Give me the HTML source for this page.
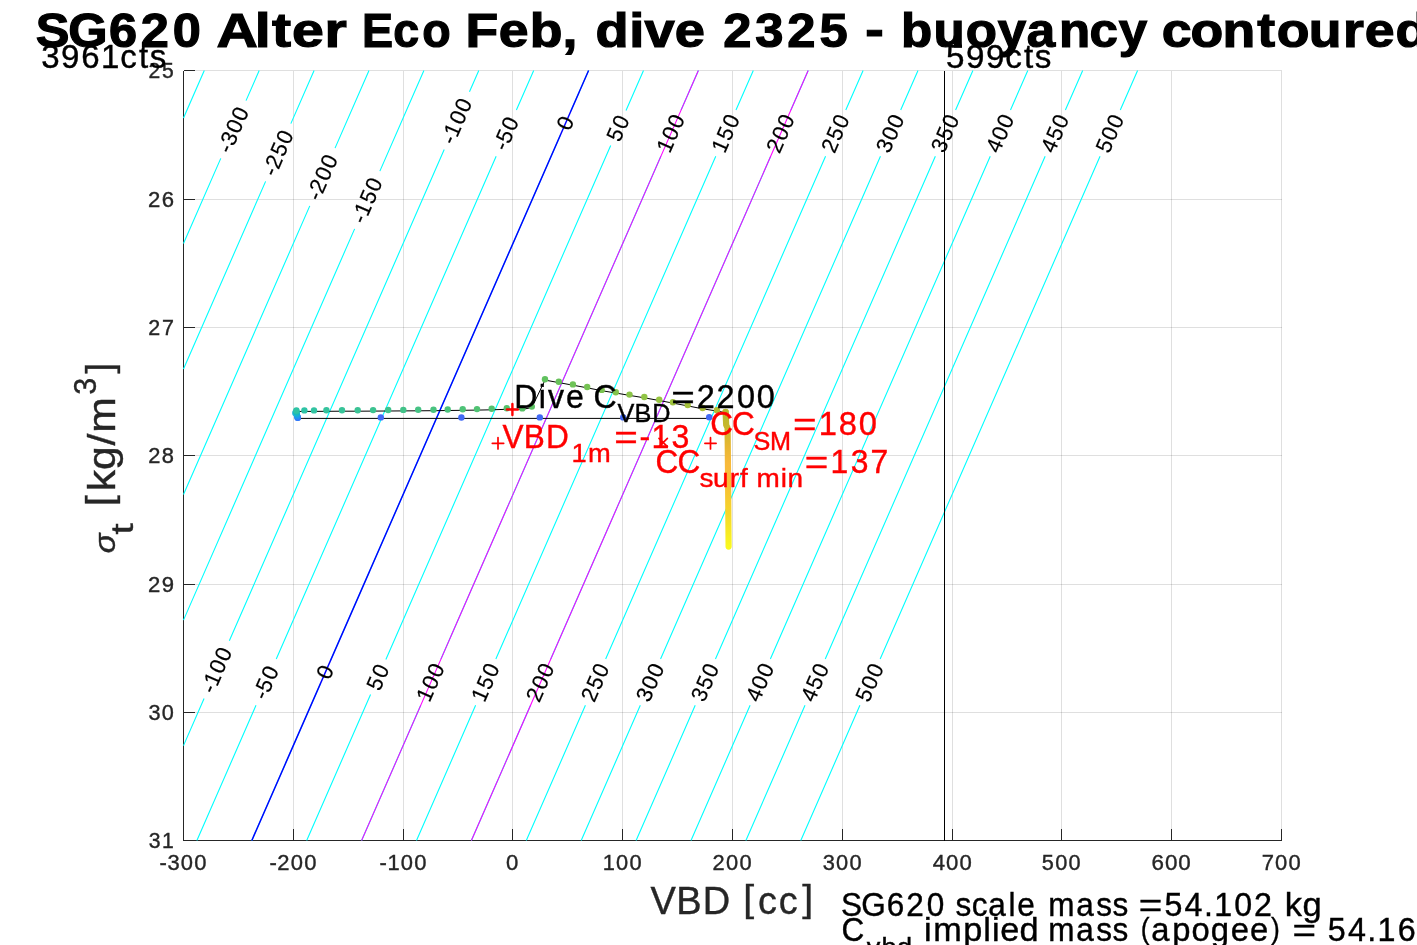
<!DOCTYPE html>
<html><head><meta charset="utf-8"><title>SG620 dive 2325 buoyancy contoured</title>
<style>html,body{margin:0;padding:0;background:#fff;overflow:hidden}svg{display:block;will-change:transform}text{font-family:"Liberation Sans",sans-serif;white-space:pre}</style>
</head><body>
<svg width="1417" height="945" viewBox="0 0 1417 945">
<rect x="0" y="0" width="1417" height="945" fill="#fff"/>
<g stroke="#262626" stroke-opacity="0.15" stroke-width="1" shape-rendering="crispEdges">
<line x1="183.50" y1="70.50" x2="183.50" y2="840.50"/>
<line x1="293.50" y1="70.50" x2="293.50" y2="840.50"/>
<line x1="403.50" y1="70.50" x2="403.50" y2="840.50"/>
<line x1="512.50" y1="70.50" x2="512.50" y2="840.50"/>
<line x1="622.50" y1="70.50" x2="622.50" y2="840.50"/>
<line x1="732.50" y1="70.50" x2="732.50" y2="840.50"/>
<line x1="842.50" y1="70.50" x2="842.50" y2="840.50"/>
<line x1="952.50" y1="70.50" x2="952.50" y2="840.50"/>
<line x1="1061.50" y1="70.50" x2="1061.50" y2="840.50"/>
<line x1="1171.50" y1="70.50" x2="1171.50" y2="840.50"/>
<line x1="1281.50" y1="70.50" x2="1281.50" y2="840.50"/>
<line x1="183.50" y1="70.50" x2="1281.50" y2="70.50"/>
<line x1="183.50" y1="199.50" x2="1281.50" y2="199.50"/>
<line x1="183.50" y1="327.50" x2="1281.50" y2="327.50"/>
<line x1="183.50" y1="455.50" x2="1281.50" y2="455.50"/>
<line x1="183.50" y1="584.50" x2="1281.50" y2="584.50"/>
<line x1="183.50" y1="712.50" x2="1281.50" y2="712.50"/>
<line x1="183.50" y1="840.50" x2="1281.50" y2="840.50"/>
</g>
<g stroke="#262626" stroke-width="1" fill="none" shape-rendering="crispEdges">
<line x1="183.50" y1="70.50" x2="183.50" y2="841.00"/>
<line x1="183.00" y1="840.50" x2="1282.00" y2="840.50"/>
<line x1="183.50" y1="840.50" x2="183.50" y2="829.00"/>
<line x1="293.50" y1="840.50" x2="293.50" y2="829.00"/>
<line x1="403.50" y1="840.50" x2="403.50" y2="829.00"/>
<line x1="512.50" y1="840.50" x2="512.50" y2="829.00"/>
<line x1="622.50" y1="840.50" x2="622.50" y2="829.00"/>
<line x1="732.50" y1="840.50" x2="732.50" y2="829.00"/>
<line x1="842.50" y1="840.50" x2="842.50" y2="829.00"/>
<line x1="952.50" y1="840.50" x2="952.50" y2="829.00"/>
<line x1="1061.50" y1="840.50" x2="1061.50" y2="829.00"/>
<line x1="1171.50" y1="840.50" x2="1171.50" y2="829.00"/>
<line x1="1281.50" y1="840.50" x2="1281.50" y2="829.00"/>
<line x1="183.50" y1="70.50" x2="195.00" y2="70.50"/>
<line x1="183.50" y1="199.50" x2="195.00" y2="199.50"/>
<line x1="183.50" y1="327.50" x2="195.00" y2="327.50"/>
<line x1="183.50" y1="455.50" x2="195.00" y2="455.50"/>
<line x1="183.50" y1="584.50" x2="195.00" y2="584.50"/>
<line x1="183.50" y1="712.50" x2="195.00" y2="712.50"/>
<line x1="183.50" y1="840.50" x2="195.00" y2="840.50"/>
</g>
<g fill="none" stroke="#00ffff" stroke-width="1.1">
<path d="M204.30 70.50L183.50 118.05"/>
<path d="M259.20 70.50L246.02 100.64M220.77 158.36L183.50 243.57"/>
<path d="M314.10 70.50L290.86 123.64M265.61 181.36L183.50 369.08"/>
<path d="M369.00 70.50L335.04 148.14M309.79 205.86L183.50 494.59"/>
<path d="M423.90 70.50L379.88 171.14M354.63 228.86L183.50 620.11"/>
<path d="M478.80 70.50L469.47 91.84M444.22 149.56L229.33 640.84M204.08 698.56L183.50 745.62"/>
<path d="M533.70 70.50L516.39 110.07M496.16 156.33L276.26 659.07M256.02 705.33L196.90 840.50"/>
<path d="M588.60 70.50L570.85 111.09M560.43 134.91L330.71 660.09M320.29 683.91L251.80 840.50"/>
<path d="M643.50 70.50L626.00 110.50M610.70 145.50L385.87 659.50M370.56 694.50L306.70 840.50"/>
<path d="M698.40 70.50L681.09 110.07M660.86 156.33L440.96 659.07M420.72 705.33L361.60 840.50"/>
<path d="M753.30 70.50L735.99 110.07M715.76 156.33L495.86 659.07M475.62 705.33L416.50 840.50"/>
<path d="M808.20 70.50L790.89 110.07M770.66 156.33L550.76 659.07M530.52 705.33L471.40 840.50"/>
<path d="M863.10 70.50L845.79 110.07M825.56 156.33L605.66 659.07M585.42 705.33L526.30 840.50"/>
<path d="M918.00 70.50L900.69 110.07M880.46 156.33L660.56 659.07M640.32 705.33L581.20 840.50"/>
<path d="M972.90 70.50L955.59 110.07M935.36 156.33L715.46 659.07M695.22 705.33L636.10 840.50"/>
<path d="M1027.80 70.50L1010.49 110.07M990.26 156.33L770.36 659.07M750.12 705.33L691.00 840.50"/>
<path d="M1082.70 70.50L1065.39 110.07M1045.16 156.33L825.26 659.07M805.02 705.33L745.90 840.50"/>
<path d="M1137.60 70.50L1120.29 110.07M1100.06 156.33L880.16 659.07M859.92 705.33L800.80 840.50"/>
</g>
<line x1="698.40" y1="70.50" x2="361.60" y2="840.50" stroke="#ff00ff" stroke-width="1.05"/>
<line x1="808.20" y1="70.50" x2="471.40" y2="840.50" stroke="#ff00ff" stroke-width="1.05"/>
<line x1="588.60" y1="70.50" x2="251.80" y2="840.50" stroke="#0000ff" stroke-width="1.45"/>
<g fill="#000">
<text transform="translate(233.39 129.50) rotate(-66.38) translate(-24.13 7.30) scale(0.9866 1)" x="0.13 8.29 21.80 35.34" y="0.16 0.00 0.00 0.00" font-size="22.26" fill="#000" stroke="#000" stroke-width="0.20">-300</text>
<text transform="translate(278.23 152.50) rotate(-66.38) translate(-24.13 7.30) scale(0.9718 1)" x="0.19 8.19 22.14 35.97" y="0.16 0.00 0.00 0.00" font-size="22.26" fill="#000" stroke="#000" stroke-width="0.20">-250</text>
<text transform="translate(322.42 177.00) rotate(-66.38) translate(-24.13 7.30) scale(0.9879 1)" x="0.13 7.96 21.76 35.29" y="0.16 0.00 0.00 0.00" font-size="22.26" fill="#000" stroke="#000" stroke-width="0.20">-200</text>
<text transform="translate(367.26 200.00) rotate(-66.38) translate(-24.13 7.30) scale(0.9697 1)" x="0.20 8.40 22.20 36.06" y="0.16 0.00 0.00 0.00" font-size="22.26" fill="#000" stroke="#000" stroke-width="0.20">-150</text>
<text transform="translate(456.84 120.70) rotate(-66.38) translate(-24.13 7.30) scale(0.9860 1)" x="0.14 8.15 21.81 35.36" y="0.16 0.00 0.00 0.00" font-size="22.26" fill="#000" stroke="#000" stroke-width="0.20">-100</text>
<text transform="translate(506.27 133.20) rotate(-66.38) translate(-17.45 7.30) scale(0.9769 1)" x="0.17 8.32 22.08" y="0.16 0.00 0.00" font-size="22.26" fill="#000" stroke="#000" stroke-width="0.20">-50</text>
<text transform="translate(565.64 123.00) rotate(-66.38) translate(-6.98 7.30) scale(0.9945 1)" x="0.52" y="0" font-size="22.26" fill="#000" stroke="#000" stroke-width="0.20">0</text>
<text transform="translate(618.35 128.00) rotate(-66.38) translate(-13.66 7.30) scale(0.9666 1)" x="0.63 14.54" y="0" font-size="22.26" fill="#000" stroke="#000" stroke-width="0.20">50</text>
<text transform="translate(670.97 133.20) rotate(-66.38) translate(-20.34 7.30) scale(0.9806 1)" x="0.51 14.24 27.87" y="0" font-size="22.26" fill="#000" stroke="#000" stroke-width="0.20">100</text>
<text transform="translate(725.87 133.20) rotate(-66.38) translate(-20.34 7.30) scale(0.9614 1)" x="0.65 14.57 28.55" y="0" font-size="22.26" fill="#000" stroke="#000" stroke-width="0.20">150</text>
<text transform="translate(780.77 133.20) rotate(-66.38) translate(-20.34 7.30) scale(0.9829 1)" x="0.32 14.20 27.79" y="0" font-size="22.26" fill="#000" stroke="#000" stroke-width="0.20">200</text>
<text transform="translate(835.67 133.20) rotate(-66.38) translate(-20.34 7.30) scale(0.9640 1)" x="0.45 14.51 28.45" y="0" font-size="22.26" fill="#000" stroke="#000" stroke-width="0.20">250</text>
<text transform="translate(890.57 133.20) rotate(-66.38) translate(-20.34 7.30) scale(0.9814 1)" x="0.64 14.23 27.84" y="0" font-size="22.26" fill="#000" stroke="#000" stroke-width="0.20">300</text>
<text transform="translate(945.47 133.20) rotate(-66.38) translate(-20.34 7.30) scale(0.9628 1)" x="0.77 14.54 28.50" y="0" font-size="22.26" fill="#000" stroke="#000" stroke-width="0.20">350</text>
<text transform="translate(1000.37 133.20) rotate(-66.38) translate(-20.34 7.30) scale(0.9945 1)" x="0.52 13.96 27.39" y="0" font-size="22.26" fill="#000" stroke="#000" stroke-width="0.20">400</text>
<text transform="translate(1055.27 133.20) rotate(-66.38) translate(-20.34 7.30) scale(0.9763 1)" x="0.64 14.25 28.02" y="0" font-size="22.26" fill="#000" stroke="#000" stroke-width="0.20">450</text>
<text transform="translate(1110.17 133.20) rotate(-66.38) translate(-20.34 7.30) scale(0.9759 1)" x="0.57 14.34 28.03" y="0" font-size="22.26" fill="#000" stroke="#000" stroke-width="0.20">500</text>
<text transform="translate(216.71 669.70) rotate(-66.38) translate(-24.13 7.30) scale(0.9860 1)" x="0.14 8.15 21.81 35.36" y="0.16 0.00 0.00 0.00" font-size="22.26" fill="#000" stroke="#000" stroke-width="0.20">-100</text>
<text transform="translate(266.14 682.20) rotate(-66.38) translate(-17.45 7.30) scale(0.9769 1)" x="0.17 8.32 22.08" y="0.16 0.00 0.00" font-size="22.26" fill="#000" stroke="#000" stroke-width="0.20">-50</text>
<text transform="translate(325.50 672.00) rotate(-66.38) translate(-6.98 7.30) scale(0.9945 1)" x="0.52" y="0" font-size="22.26" fill="#000" stroke="#000" stroke-width="0.20">0</text>
<text transform="translate(378.22 677.00) rotate(-66.38) translate(-13.66 7.30) scale(0.9666 1)" x="0.63 14.54" y="0" font-size="22.26" fill="#000" stroke="#000" stroke-width="0.20">50</text>
<text transform="translate(430.84 682.20) rotate(-66.38) translate(-20.34 7.30) scale(0.9806 1)" x="0.51 14.24 27.87" y="0" font-size="22.26" fill="#000" stroke="#000" stroke-width="0.20">100</text>
<text transform="translate(485.74 682.20) rotate(-66.38) translate(-20.34 7.30) scale(0.9614 1)" x="0.65 14.57 28.55" y="0" font-size="22.26" fill="#000" stroke="#000" stroke-width="0.20">150</text>
<text transform="translate(540.64 682.20) rotate(-66.38) translate(-20.34 7.30) scale(0.9829 1)" x="0.32 14.20 27.79" y="0" font-size="22.26" fill="#000" stroke="#000" stroke-width="0.20">200</text>
<text transform="translate(595.54 682.20) rotate(-66.38) translate(-20.34 7.30) scale(0.9640 1)" x="0.45 14.51 28.45" y="0" font-size="22.26" fill="#000" stroke="#000" stroke-width="0.20">250</text>
<text transform="translate(650.44 682.20) rotate(-66.38) translate(-20.34 7.30) scale(0.9814 1)" x="0.64 14.23 27.84" y="0" font-size="22.26" fill="#000" stroke="#000" stroke-width="0.20">300</text>
<text transform="translate(705.34 682.20) rotate(-66.38) translate(-20.34 7.30) scale(0.9628 1)" x="0.77 14.54 28.50" y="0" font-size="22.26" fill="#000" stroke="#000" stroke-width="0.20">350</text>
<text transform="translate(760.24 682.20) rotate(-66.38) translate(-20.34 7.30) scale(0.9945 1)" x="0.52 13.96 27.39" y="0" font-size="22.26" fill="#000" stroke="#000" stroke-width="0.20">400</text>
<text transform="translate(815.14 682.20) rotate(-66.38) translate(-20.34 7.30) scale(0.9763 1)" x="0.64 14.25 28.02" y="0" font-size="22.26" fill="#000" stroke="#000" stroke-width="0.20">450</text>
<text transform="translate(870.04 682.20) rotate(-66.38) translate(-20.34 7.30) scale(0.9759 1)" x="0.57 14.34 28.03" y="0" font-size="22.26" fill="#000" stroke="#000" stroke-width="0.20">500</text>
</g>
<line x1="944.5" y1="70.50" x2="944.5" y2="840.50" stroke="#000" stroke-width="1" shape-rendering="crispEdges"/>
<polyline fill="none" stroke="#000" stroke-width="1" points="709.2,418.4 297.7,418.4 296.4,411.5 304.4,411.4 314.0,411.4 326.4,411.3 342.0,411.2 357.7,411.2 373.1,411.1 388.2,411.0 403.3,410.9 418.2,410.8 433.5,410.7 447.7,410.5 462.7,410.3 477.0,410.1 491.7,409.8 506.8,409.3 522.3,409.4 531.8,407.6 545.0,380.1 558.8,382.6 572.9,385.2 587.2,387.8 601.7,390.7 615.8,393.0 629.5,395.4 644.3,397.8 659.2,400.5 672.9,403.1 687.7,405.9 702.6,408.8 716.9,411.0 725.6,412.8"/>
<circle cx="709.2" cy="417.3" r="3.2" fill="#4169f5"/>
<circle cx="623.2" cy="417.4" r="3.2" fill="#4169f5"/>
<circle cx="539.8" cy="417.4" r="3.2" fill="#4169f5"/>
<circle cx="461.4" cy="417.5" r="3.2" fill="#4169f5"/>
<circle cx="380.8" cy="417.4" r="3.2" fill="#4169f5"/>
<circle cx="297.7" cy="417.7" r="3.2" fill="#4169f5"/>
<circle cx="297.7" cy="417.7" r="3.2" fill="#2d7bfa"/>
<circle cx="297.4" cy="416.6" r="3.2" fill="#2a86f5"/>
<circle cx="297.0" cy="415.4" r="3.2" fill="#1f9aea"/>
<circle cx="296.7" cy="414.0" r="3.2" fill="#16abdc"/>
<circle cx="295.3" cy="412.9" r="3.2" fill="#20b4d8"/>
<circle cx="296.5" cy="412.6" r="3.2" fill="#12b6c4"/>
<circle cx="296.4" cy="411.4" r="3.2" fill="#1fbcb2"/>
<circle cx="296.4" cy="410.4" r="3.2" fill="#2ec3a5"/>
<circle cx="304.4" cy="410.4" r="3.2" fill="#2ec3a5"/>
<circle cx="314.0" cy="410.4" r="3.2" fill="#31c3a1"/>
<circle cx="326.4" cy="410.3" r="3.2" fill="#34c39d"/>
<circle cx="342.0" cy="410.2" r="3.2" fill="#37c398"/>
<circle cx="357.7" cy="410.2" r="3.2" fill="#3ac294"/>
<circle cx="373.1" cy="410.1" r="3.2" fill="#3cc290"/>
<circle cx="388.2" cy="410.0" r="3.2" fill="#3fc28c"/>
<circle cx="403.3" cy="409.9" r="3.2" fill="#42c288"/>
<circle cx="418.2" cy="409.8" r="3.2" fill="#45c284"/>
<circle cx="433.5" cy="409.7" r="3.2" fill="#48c27f"/>
<circle cx="447.7" cy="409.5" r="3.2" fill="#4bc27b"/>
<circle cx="462.7" cy="409.3" r="3.2" fill="#4ec277"/>
<circle cx="477.0" cy="409.1" r="3.2" fill="#50c273"/>
<circle cx="491.7" cy="408.8" r="3.2" fill="#53c16f"/>
<circle cx="506.8" cy="408.3" r="3.2" fill="#56c16a"/>
<circle cx="522.3" cy="408.4" r="3.2" fill="#59c166"/>
<circle cx="531.8" cy="406.6" r="3.2" fill="#5cc162"/>
<circle cx="545.0" cy="379.3" r="3.2" fill="#60c15e"/>
<circle cx="558.8" cy="381.8" r="3.2" fill="#67c15a"/>
<circle cx="572.9" cy="384.4" r="3.2" fill="#6ec257"/>
<circle cx="587.2" cy="387.0" r="3.2" fill="#75c253"/>
<circle cx="601.7" cy="389.9" r="3.2" fill="#7cc350"/>
<circle cx="615.8" cy="392.2" r="3.2" fill="#83c34c"/>
<circle cx="629.5" cy="394.6" r="3.2" fill="#8ac348"/>
<circle cx="644.3" cy="397.0" r="3.2" fill="#90c445"/>
<circle cx="659.2" cy="399.7" r="3.2" fill="#97c441"/>
<circle cx="672.9" cy="402.3" r="3.2" fill="#9ec23e"/>
<circle cx="687.7" cy="405.1" r="3.2" fill="#a4c03a"/>
<circle cx="702.6" cy="408.0" r="3.2" fill="#abbe37"/>
<circle cx="716.9" cy="410.2" r="3.2" fill="#b1bc33"/>
<circle cx="725.6" cy="412.0" r="3.2" fill="#b8ba30"/>
<defs><linearGradient id="tail" gradientUnits="userSpaceOnUse" x1="0" y1="412" x2="0" y2="547"><stop offset="0" stop-color="#b5b92f"/><stop offset="0.12" stop-color="#c9b72c"/><stop offset="0.25" stop-color="#e6b632"/><stop offset="0.38" stop-color="#f8b93b"/><stop offset="0.55" stop-color="#f7c034"/><stop offset="0.75" stop-color="#f5d62a"/><stop offset="1" stop-color="#f9f91f"/></linearGradient></defs>
<path d="M725.6 412.0L726.2 425.0L727.6 428.0L728.0 470.0L728.6 546.6" fill="none" stroke="url(#tail)" stroke-width="6.2" stroke-linecap="round" stroke-linejoin="round"/>
<path d="M506.9 409.5H517.9M512.4 404.0V415.0" stroke="#ff0000" stroke-width="2.40" stroke-linecap="round" fill="none"/>
<path d="M492.3 443.3H503.7M498.0 437.6V449.0" stroke="#ff0000" stroke-width="1.70" stroke-linecap="round" fill="none"/>
<path d="M704.9 443.3H716.1M710.5 437.7V448.9" stroke="#ff0000" stroke-width="1.70" stroke-linecap="round" fill="none"/>
<path d="M659.0 438.3L667.4 446.7M667.4 438.3L659.0 446.7" stroke="#ff0000" stroke-width="1.7" stroke-linecap="round" fill="none"/>
<text transform="translate(159.37 870.30) scale(0.9866 1)" x="0.13 8.29 21.80 35.34" y="0.16 0.00 0.00 0.00" font-size="22.26" fill="#262626" stroke="#262626" stroke-width="0.40">-300</text>
<text transform="translate(269.37 870.30) scale(0.9879 1)" x="0.13 7.96 21.76 35.29" y="0.16 0.00 0.00 0.00" font-size="22.26" fill="#262626" stroke="#262626" stroke-width="0.40">-200</text>
<text transform="translate(379.37 870.30) scale(0.9860 1)" x="0.14 8.15 21.81 35.36" y="0.16 0.00 0.00 0.00" font-size="22.26" fill="#262626" stroke="#262626" stroke-width="0.40">-100</text>
<text transform="translate(505.52 870.30) scale(0.9945 1)" x="0.52" y="0" font-size="22.26" fill="#262626" stroke="#262626" stroke-width="0.40">0</text>
<text transform="translate(602.16 870.30) scale(0.9806 1)" x="0.51 14.24 27.87" y="0" font-size="22.26" fill="#262626" stroke="#262626" stroke-width="0.40">100</text>
<text transform="translate(712.16 870.30) scale(0.9829 1)" x="0.32 14.20 27.79" y="0" font-size="22.26" fill="#262626" stroke="#262626" stroke-width="0.40">200</text>
<text transform="translate(822.16 870.30) scale(0.9814 1)" x="0.64 14.23 27.84" y="0" font-size="22.26" fill="#262626" stroke="#262626" stroke-width="0.40">300</text>
<text transform="translate(932.16 870.30) scale(0.9945 1)" x="0.52 13.96 27.39" y="0" font-size="22.26" fill="#262626" stroke="#262626" stroke-width="0.40">400</text>
<text transform="translate(1041.16 870.30) scale(0.9759 1)" x="0.57 14.34 28.03" y="0" font-size="22.26" fill="#262626" stroke="#262626" stroke-width="0.40">500</text>
<text transform="translate(1151.16 870.30) scale(1.0058 1)" x="0.45 13.73 27.01" y="0" font-size="22.26" fill="#262626" stroke="#262626" stroke-width="0.40">600</text>
<text transform="translate(1261.16 870.30) scale(0.9875 1)" x="0.53 14.10 27.63" y="0" font-size="22.26" fill="#262626" stroke="#262626" stroke-width="0.40">700</text>
<text transform="translate(147.88 78.20) scale(0.9500 1)" x="0.55 14.81" y="0" font-size="22.26" fill="#262626" stroke="#262626" stroke-width="0.40">25</text>
<text transform="translate(147.88 207.20) scale(0.9941 1)" x="0.25 13.97" y="0" font-size="22.26" fill="#262626" stroke="#262626" stroke-width="0.40">26</text>
<text transform="translate(147.88 335.20) scale(0.9657 1)" x="0.44 14.52" y="0" font-size="22.26" fill="#262626" stroke="#262626" stroke-width="0.40">27</text>
<text transform="translate(147.88 463.20) scale(0.9822 1)" x="0.32 14.21" y="0" font-size="22.26" fill="#262626" stroke="#262626" stroke-width="0.40">28</text>
<text transform="translate(147.88 592.20) scale(0.9931 1)" x="0.25 13.92" y="0" font-size="22.26" fill="#262626" stroke="#262626" stroke-width="0.40">29</text>
<text transform="translate(147.88 720.20) scale(0.9748 1)" x="0.69 14.36" y="0" font-size="22.26" fill="#262626" stroke="#262626" stroke-width="0.40">30</text>
<text transform="translate(147.88 848.20) scale(0.9526 1)" x="0.85 14.74" y="0" font-size="22.26" fill="#262626" stroke="#262626" stroke-width="0.40">31</text>
<text transform="translate(35.90 46.80) scale(1.0366 1)" x="-0.06 31.19 70.44 101.10 132.06" y="0" font-size="48.76" fill="#000" font-weight="bold" stroke="#000" stroke-width="1.20">SG620</text>
<text transform="translate(219.28 46.80) scale(1.1740 1)" x="-2.41 30.29 44.81 61.99 89.58" y="0" font-size="48.76" fill="#000" font-weight="bold" stroke="#000" stroke-width="1.20">Alter</text>
<text transform="translate(361.98 46.80) scale(0.9556 1)" x="-0.05 32.78 63.06" y="0" font-size="48.76" fill="#000" font-weight="bold" stroke="#000" stroke-width="1.20">Eco</text>
<text transform="translate(466.78 46.80) scale(1.0981 1)" x="-1.16 29.03 57.34 87.15" y="0" font-size="48.76" fill="#000" font-weight="bold" stroke="#000" stroke-width="1.20">Feb,</text>
<text transform="translate(595.93 46.80) scale(1.1120 1)" x="-0.29 29.95 43.74 70.99" y="0" font-size="48.76" fill="#000" font-weight="bold" stroke="#000" stroke-width="1.20">dive</text>
<text transform="translate(721.36 46.80) scale(1.0399 1)" x="1.79 32.65 63.35 94.26" y="0" font-size="48.76" fill="#000" font-weight="bold" stroke="#000" stroke-width="1.20">2325</text>
<text transform="translate(864.81 46.80) scale(1.1393 1)" x="0.28" y="-0.60" font-size="48.76" fill="#000" font-weight="bold" stroke="#000" stroke-width="1.20">-</text>
<text transform="translate(899.84 46.80) scale(1.0484 1)" x="1.06 32.10 62.82 93.34 120.98 151.75 180.91 208.79" y="0" font-size="48.76" fill="#000" font-weight="bold" stroke="#000" stroke-width="1.20">buoyancy</text>
<text transform="translate(1163.72 46.80) scale(1.0999 1)" x="-1.90 24.26 53.54 84.97 102.76 131.98 163.07 182.80 210.64" y="0" font-size="48.76" fill="#000" font-weight="bold" stroke="#000" stroke-width="1.20">contoured</text>
<text transform="translate(40.51 67.80) scale(0.9949 1)" x="0.82 20.71 40.85 60.71 80.12 98.93 109.92" y="0" font-size="33.21" fill="#000" stroke="#000" stroke-width="0.40">3961cts</text>
<text transform="translate(945.48 67.80) scale(0.9991 1)" x="0.61 20.58 40.53 59.79 78.54 89.47" y="0" font-size="33.21" fill="#000" stroke="#000" stroke-width="0.40">599cts</text>
<text transform="translate(513.83 407.90) scale(0.9657 1)" x="0.57 25.82 35.29 54.01 73.16 82.63" y="0" font-size="33.21" fill="#000" stroke="#000" stroke-width="0.40">Dive C</text>
<text transform="translate(617.30 422.30) scale(0.9514 1)" x="0.14 18.17 36.70" y="0" font-size="26.57" fill="#000" stroke="#000" stroke-width="0.40">VBD</text>
<text transform="translate(669.88 407.90) scale(1.2155 1)" x="1.11" y="1.12" font-size="33.21" fill="#000" stroke="#000" stroke-width="0.40">=</text>
<text transform="translate(696.13 407.90) scale(0.9769 1)" x="0.54 20.94 41.77 62.17" y="0" font-size="33.21" fill="#000" stroke="#000" stroke-width="0.40">2200</text>
<text transform="translate(502.26 448.20) scale(0.9514 1)" x="0.18 22.71 45.88" y="0" font-size="33.21" fill="#ff0000" stroke="#ff0000" stroke-width="0.40">VBD</text>
<text transform="translate(571.25 462.20) scale(1.0272 1)" x="0.23 16.41" y="0" font-size="26.57" fill="#ff0000" stroke="#ff0000" stroke-width="0.40">1m</text>
<text transform="translate(612.98 448.20) scale(1.2155 1)" x="1.11" y="1.12" font-size="33.21" fill="#ff0000" stroke="#ff0000" stroke-width="0.40">=</text>
<text transform="translate(639.23 448.20) scale(0.9662 1)" x="0.32 12.61 33.44" y="0.24 0.00 0.00" font-size="33.21" fill="#ff0000" stroke="#ff0000" stroke-width="0.40">-13</text>
<text transform="translate(710.84 435.10) scale(0.9500 1)" x="-0.66 22.37" y="0" font-size="33.21" fill="#ff0000" stroke="#ff0000" stroke-width="0.40">CC</text>
<text transform="translate(753.85 449.70) scale(0.9500 1)" x="-0.34 17.07" y="0" font-size="26.57" fill="#ff0000" stroke="#ff0000" stroke-width="0.40">SM</text>
<text transform="translate(791.68 435.10) scale(1.2155 1)" x="1.11" y="1.12" font-size="33.21" fill="#ff0000" stroke="#ff0000" stroke-width="0.40">=</text>
<text transform="translate(817.93 435.10) scale(0.9842 1)" x="0.72 21.14 41.39" y="0" font-size="33.21" fill="#ff0000" stroke="#ff0000" stroke-width="0.40">180</text>
<text transform="translate(656.14 472.80) scale(0.9500 1)" x="-0.66 22.37" y="0" font-size="33.21" fill="#ff0000" stroke="#ff0000" stroke-width="0.40">CC</text>
<text transform="translate(699.84 487.20) scale(1.0532 1)" x="-0.27 12.50 28.37 38.06 45.65 53.80 76.76 83.21" y="0" font-size="26.57" fill="#ff0000" stroke="#ff0000" stroke-width="0.40">surf min</text>
<text transform="translate(803.38 472.80) scale(1.2155 1)" x="1.11" y="1.12" font-size="33.21" fill="#ff0000" stroke="#ff0000" stroke-width="0.40">=</text>
<text transform="translate(829.63 472.80) scale(0.9593 1)" x="0.99 21.97 42.64" y="0" font-size="33.21" fill="#ff0000" stroke="#ff0000" stroke-width="0.40">137</text>
<text transform="translate(650.21 913.90) scale(0.9744 1)" x="0.21 26.66 53.86 82.74" y="0" font-size="38.99" fill="#262626" stroke="#262626" stroke-width="0.40">VBD </text>
<text transform="translate(742.80 913.90) scale(1.0065 0.9242)" x="0.44" y="-2.72" font-size="38.99" fill="#262626" stroke="#262626" stroke-width="0.40">[</text>
<text transform="translate(757.50 913.90) scale(0.9695 1)" x="0.49 21.85" y="0" font-size="38.99" fill="#262626" stroke="#262626" stroke-width="0.40">cc</text>
<text transform="translate(798.92 913.90) scale(1.0065 0.9242)" x="3.33" y="-2.72" font-size="38.99" fill="#262626" stroke="#262626" stroke-width="0.40">]</text>
<text transform="translate(114.8 552.6) rotate(-90) translate(-0.59 0.6) scale(1.13 1)" font-size="29.00" font-style="italic" fill="#262626" stroke="#262626" stroke-width="0.4">σ</text>
<text transform="translate(114.8 552.6) rotate(-90) translate(17.79 18.50) scale(1.2913 1)" x="0.15" y="0" font-size="31.19" fill="#262626" stroke="#262626" stroke-width="0.40">t</text>
<text transform="translate(114.8 552.6) rotate(-90) translate(46.16 0.00) scale(1.0065 0.9242)" x="0.44" y="-2.72" font-size="38.99" fill="#262626" stroke="#262626" stroke-width="0.40">[</text>
<text transform="translate(114.8 552.6) rotate(-90) translate(60.86 0.00) scale(1.0944 1)" x="0.39 19.84 42.17 54.00" y="0" font-size="38.99" fill="#262626" stroke="#262626" stroke-width="0.40">kg/m</text>
<text transform="translate(114.8 552.6) rotate(-90) translate(156.80 -18.70) scale(0.9781 1)" x="1.16" y="0" font-size="31.19" fill="#262626" stroke="#262626" stroke-width="0.40">3</text>
<text transform="translate(114.8 552.6) rotate(-90) translate(175.64 0.00) scale(1.0065 0.9242)" x="3.33" y="-2.72" font-size="38.99" fill="#262626" stroke="#262626" stroke-width="0.40">]</text>
<text transform="translate(841.43 915.90) scale(0.9500 1)" x="-0.43 20.77 47.74 68.28 89.70" y="0" font-size="33.21" fill="#000" stroke="#000" stroke-width="0.40">SG620</text>
<text transform="translate(955.00 915.90) scale(0.9500 1)" x="0.51 17.57 34.97 56.42 65.66" y="0" font-size="33.21" fill="#000" stroke="#000" stroke-width="0.40">scale</text>
<text transform="translate(1045.95 915.90) scale(0.9500 1)" x="2.32 31.78 52.85 70.03" y="0" font-size="33.21" fill="#000" stroke="#000" stroke-width="0.40">mass</text>
<text transform="translate(1137.38 915.90) scale(1.2155 1)" x="1.11" y="1.12" font-size="33.21" fill="#000" stroke="#000" stroke-width="0.40">=</text>
<text transform="translate(1163.63 915.90) scale(0.9700 1)" x="0.91 21.58 41.60 52.23 72.94 93.07" y="0" font-size="33.21" fill="#000" stroke="#000" stroke-width="0.40">54.102</text>
<text transform="translate(1284.15 915.90) scale(1.0398 1)" x="0.60 17.61" y="0" font-size="33.21" fill="#000" stroke="#000" stroke-width="0.40">kg</text>
<text transform="translate(842.14 941.30) scale(0.9500 1)" x="-0.66" y="0" font-size="33.21" fill="#000" stroke="#000" stroke-width="0.40">C</text>
<text transform="translate(923.55 941.30) scale(1.0322 1)" x="0.54 9.46 38.57 57.79 66.24 74.29 93.03" y="0" font-size="33.21" fill="#000" stroke="#000" stroke-width="0.40">implied</text>
<text transform="translate(1045.95 941.30) scale(0.9500 1)" x="2.32 31.78 52.85 70.03" y="0" font-size="33.21" fill="#000" stroke="#000" stroke-width="0.40">mass</text>
<text transform="translate(1139.71 941.30) scale(0.7975 0.9019)" x="1.32" y="-2.30" font-size="33.21" fill="#000" stroke="#000" stroke-width="0.40">(</text>
<text transform="translate(1151.93 941.30) scale(0.9874 1)" x="-0.71 20.48 40.06 59.64 79.72 99.24" y="0" font-size="33.21" fill="#000" stroke="#000" stroke-width="0.40">apogee</text>
<text transform="translate(1268.62 941.30) scale(0.7975 0.9019)" x="2.95" y="-2.30" font-size="33.21" fill="#000" stroke="#000" stroke-width="0.40">)</text>
<text transform="translate(1291.08 941.30) scale(1.2155 1)" x="1.11" y="1.12" font-size="33.21" fill="#000" stroke="#000" stroke-width="0.40">=</text>
<text transform="translate(1326.98 941.30) scale(0.9725 1)" x="0.88 21.50 41.49 52.08 72.74 93.11" y="0" font-size="33.21" fill="#000" stroke="#000" stroke-width="0.40">54.165</text>
<text transform="translate(1444.15 941.30) scale(1.0398 1)" x="0.60 17.61" y="0" font-size="33.21" fill="#000" stroke="#000" stroke-width="0.40">kg</text>
<text transform="translate(866.05 955.60) scale(1.0231 1)" x="0.61 15.03 30.30" y="0" font-size="26.57" fill="#000" stroke="#000" stroke-width="0.40">vbd</text>
</svg>
</body></html>
